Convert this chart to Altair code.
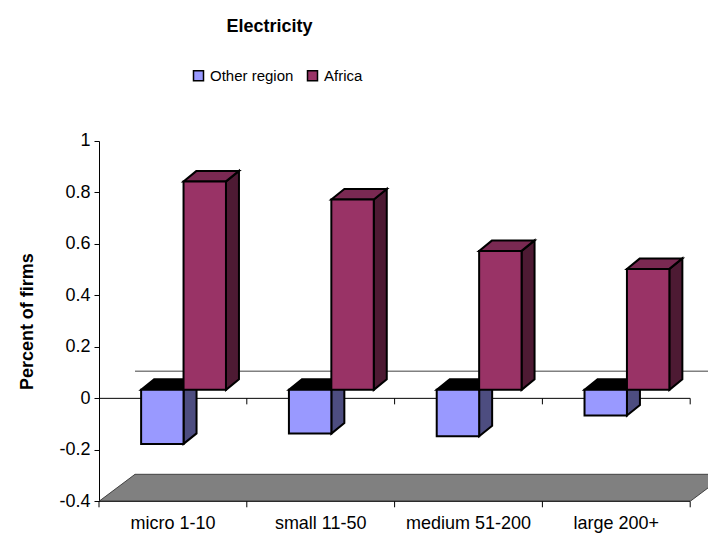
import altair as alt
import pandas as pd

# ---------------- data ----------------
categories = ["micro 1-10", "small 11-50", "medium 51-200", "large 200+"]
series = ["Other region", "Africa"]
other_region = [-0.21, -0.17, -0.18, -0.10]
africa = [0.81, 0.74, 0.54, 0.47]
y_ticks = [-0.4, -0.2, 0, 0.2, 0.4, 0.6, 0.8, 1]

# ---------------- style / 3-D geometry ----------------
FONT = "Liberation Sans"
Y_MIN, Y_MAX = -0.4, 1.0
PX_X = 147.8          # px per category
PX_Y = 257.4          # px per value unit
PLOT_W = 609
X_MAX = PLOT_W / PX_X
BAR_OFF = {"Other region": 0.285, "Africa": 0.572}
BAR_W = 0.287
BASE = 8.5 / PX_Y     # depth lift of the bar front faces
DX, DY = 13 / PX_X, 10.5 / PX_Y        # bar depth
FDX, FDY = 36 / PX_X, 27 / PX_Y        # floor depth
TICK = 6 / PX_Y
COLORS = {
    "Other region": {"front": "#9999FF", "side": "#4D4D80", "top": "#000000"},
    "Africa": {"front": "#993366", "side": "#4D1A33", "top": "#7A2952"},
}

values = {"Other region": other_region, "Africa": africa}
front, side, top = [], [], []
for s in series:
    for i, (c, v) in enumerate(zip(categories, values[s])):
        bid = f"{s}-{i}"
        x0 = i + BAR_OFF[s]
        x1 = x0 + BAR_W
        lo = min(v, 0) + BASE
        hi = max(v, 0) + BASE
        front.append({"category": c, "series": s, "value": v, "x0": x0, "x1": x1, "lo": lo, "hi": hi})
        side.append({"id": bid, "x": x1, "y": lo, "y2": hi, "fill": COLORS[s]["side"]})
        side.append({"id": bid, "x": x1 + DX, "y": lo + DY, "y2": hi + DY, "fill": COLORS[s]["side"]})
        top.append({"id": bid, "y": hi, "x": x0, "x2": x1, "fill": COLORS[s]["top"]})
        top.append({"id": bid, "y": hi + DY, "x": x0 + DX, "x2": x1 + DX, "fill": COLORS[s]["top"]})

front_df = pd.DataFrame(front)
side_df = pd.DataFrame(side)
top_df = pd.DataFrame(top)
n = len(categories)
floor_df = pd.DataFrame({"y": [Y_MIN, Y_MIN + FDY], "x": [0, FDX], "x2": [n, n + FDX]})
back_df = pd.DataFrame({"x": [FDX], "x2": [X_MAX], "y": [FDY]})
zero_df = pd.DataFrame({"x": [0], "x2": [n], "y": [0]})
bottom_df = pd.DataFrame({"x": [0], "x2": [n], "y": [Y_MIN]})
zero_ticks = pd.DataFrame({"x": list(range(1, n + 1)), "y": 0.0, "y2": -TICK})
bottom_ticks = pd.DataFrame({"x": list(range(0, n + 1)), "y": Y_MIN, "y2": Y_MIN - TICK})
label_df = pd.DataFrame({"category": categories, "x": [i + 0.5 for i in range(n)], "y": Y_MIN})

xs = alt.Scale(domain=[0, X_MAX], nice=False, zero=False)
ys = alt.Scale(domain=[Y_MIN, Y_MAX], nice=False, zero=False)
yaxis = alt.Axis(
    values=y_ticks,
    labelExpr="datum.value < 0 ? '-' + format(-datum.value, '~g') : format(datum.value, '~g')",
    title="Percent of firms", titleFontSize=18, titleFontWeight="bold", titleFont=FONT,
    titleColor="black", titlePadding=22,
    labelFontSize=18, labelFont=FONT, labelColor="black", labelPadding=4,
    tickSize=5, tickColor="black", domainColor="black", grid=False,
)


def X(f):
    return alt.X(f, type="quantitative", scale=xs, axis=None)


def Y(f):
    return alt.Y(f, type="quantitative", scale=ys, axis=yaxis)


floor = alt.Chart(floor_df).mark_area(
    orient="horizontal", fill="#808080", stroke="#404040", strokeWidth=1, clip=True
).encode(y=Y("y"), x=X("x"), x2="x2")

back = alt.Chart(back_df).mark_rule(color="#808080", strokeWidth=1.5).encode(
    x=X("x"), x2="x2", y=Y("y"))
zero = alt.Chart(zero_df).mark_rule(color="black", strokeWidth=1).encode(
    x=X("x"), x2="x2", y=Y("y"))
bottom = alt.Chart(bottom_df).mark_rule(color="black", strokeWidth=1).encode(
    x=X("x"), x2="x2", y=Y("y"))
zt = alt.Chart(zero_ticks).mark_rule(color="black").encode(x=X("x"), y=Y("y"), y2="y2")
bt = alt.Chart(bottom_ticks).mark_rule(color="black").encode(x=X("x"), y=Y("y"), y2="y2")

sides = alt.Chart(side_df).mark_area(
    orient="vertical", stroke="black", strokeWidth=2, strokeJoin="miter"
).encode(x=X("x"), y=Y("y"), y2="y2", detail="id:N", fill=alt.Fill("fill:N", scale=None))

tops = alt.Chart(top_df).mark_area(
    orient="horizontal", stroke="black", strokeWidth=2, strokeJoin="miter"
).encode(y=Y("y"), x=X("x"), x2="x2", detail="id:N", fill=alt.Fill("fill:N", scale=None))

fronts = alt.Chart(front_df).mark_rect(stroke="black", strokeWidth=2).encode(
    x=X("x0"), x2="x1", y=Y("lo"), y2="hi",
    color=alt.Color(
        "series:N",
        scale=alt.Scale(domain=series, range=[COLORS[s]["front"] for s in series]),
        legend=alt.Legend(
            title=None, orient="none", direction="horizontal",
            legendX=92, legendY=-73, padding=0,
            symbolType="square", symbolSize=100, symbolStrokeColor="black",
            symbolStrokeWidth=1.5, symbolOpacity=1,
            labelFontSize=15, labelFont=FONT, labelColor="black",
            labelOffset=4, columnPadding=10,
        ),
    ),
    tooltip=["category:N", "series:N", "value:Q"],
)

labels = alt.Chart(label_df).mark_text(
    dy=23, baseline="middle", align="center", fontSize=18, font=FONT, color="black"
).encode(x=X("x"), y=Y("y"), text="category:N")

chart = alt.layer(
    floor, back, zero, zt, bottom, bt, sides, tops, fronts, labels
).properties(
    width=PLOT_W, height=360.3,
    padding={"left": 91, "top": 133, "right": 0, "bottom": 34},
    autosize=alt.AutoSizeParams(type="none"),
    title=alt.TitleParams(
        "Electricity", fontSize=18, font=FONT, fontWeight="bold", color="black",
        anchor="middle", dx=-134, offset=18, baseline="alphabetic",
    ),
).configure_view(stroke=None)

chart.save("out.html", embed_options={"renderer": "svg", "actions": False})
